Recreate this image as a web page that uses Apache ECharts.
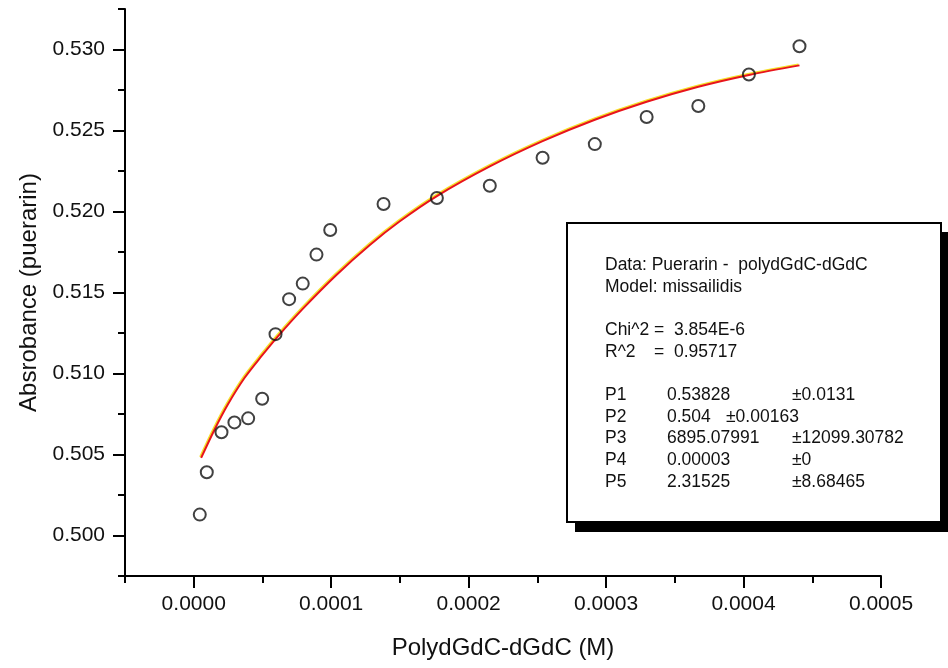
<!DOCTYPE html>
<html>
<head>
<meta charset="utf-8">
<script src="https://cdn.jsdelivr.net/npm/echarts@6/dist/echarts.min.js"></script>
<style>html,body{margin:0;padding:0;background:#fff}#c{width:948px;height:668px}</style>
</head>
<body>
<div id="c"></div>
<script>
// Measured data points (PolydGdC-dGdC concentration in M, absorbance)
const concX = [0.0000044, 0.0000095, 0.0000202, 0.0000296, 0.0000396, 0.0000498, 0.0000595, 0.0000694, 0.0000793, 0.0000893, 0.0000993,
  0.0001381, 0.0001769, 0.0002154, 0.0002538, 0.0002918, 0.0003295, 0.0003671, 0.0004039, 0.0004407];
const absorbY = [0.50129, 0.50390, 0.50637, 0.50698, 0.50723, 0.50844, 0.51243, 0.51459, 0.51555, 0.51734, 0.51886,
  0.52046, 0.52083, 0.52159, 0.52332, 0.52416, 0.52583, 0.52651, 0.52846, 0.53020];
// Fitted curve
const fitX = [0.0000054, 0.0000151, 0.0000247, 0.0000369, 0.0000491, 0.0000611, 0.0000793, 0.0001036, 0.0001279, 0.0001497,
  0.0001769, 0.0002154, 0.0002538, 0.0002918, 0.0003295, 0.0003671, 0.0004039, 0.0004407];
const fitY = [0.50479, 0.50653, 0.50807, 0.50972, 0.51105, 0.51228, 0.51399, 0.51607, 0.51792, 0.51938,
  0.52095, 0.52278, 0.52434, 0.52566, 0.52677, 0.52770, 0.52843, 0.52902];
// Axis ticks
const yMajorTicks = [0.500, 0.505, 0.510, 0.515, 0.520, 0.525, 0.530];
const yMinorTicks = [0.4975, 0.5025, 0.5075, 0.5125, 0.5175, 0.5225, 0.5275, 0.5325];
const xMajorTicks = [0.0000, 0.0001, 0.0002, 0.0003, 0.0004, 0.0005];
const xMinorTicks = [-0.00005, 0.00005, 0.00015, 0.00025, 0.00035, 0.00045];
const xTitle = 'PolydGdC-dGdC (M)';
const yTitle = 'Absrobance (puerarin)';
// Fit report box
const boxHeader = ['Data: Puerarin -  polydGdC-dGdC', 'Model: missailidis'];
const statNames = ['Chi^2', 'R^2'];
const statValues = ['=  3.854E-6', '=  0.95717'];
const paramNames = ['P1', 'P2', 'P3', 'P4', 'P5'];
const paramValues = ['0.53828', '0.504', '6895.07991', '0.00003', '2.31525'];
const paramErrors = ['\u00b10.0131', '\u00b10.00163', '\u00b112099.30782', '\u00b10', '\u00b18.68465'];

const FONT = "'Liberation Sans', Arial, sans-serif";
const chart = echarts.init(document.getElementById('c'), null, {renderer: 'canvas'});

const txt = (x, y, s) => ({type: 'text', x: x, y: y, style: {text: s, font: '17.5px ' + FONT, fill: '#111', textVerticalAlign: 'middle'}});
const graphics = [
  {type: 'rect', shape: {x: 575, y: 232, width: 380, height: 300}, style: {fill: '#000'}},
  {type: 'rect', shape: {x: 567, y: 223, width: 374, height: 299}, style: {fill: '#fff', stroke: '#000', lineWidth: 2}}
];
boxHeader.forEach((s, i) => graphics.push(txt(605, 265 + i * 21.7, s)));
statNames.forEach((s, i) => { graphics.push(txt(605, 330 + i * 21.7, s)); graphics.push(txt(654, 330 + i * 21.7, statValues[i])); });
paramNames.forEach((s, i) => {
  const y = 395 + i * 21.7;
  graphics.push(txt(605, y, s));
  graphics.push(txt(667, y, paramValues[i]));
  graphics.push(txt(i === 1 ? 726 : 792, y, paramErrors[i]));
});

chart.setOption({
  backgroundColor: '#fff',
  animation: false,
  grid: {left: 125, right: 67, top: 9, bottom: 92, containLabel: false},
  xAxis: [
    {
      type: 'value', min: -0.00005, max: 0.0005, position: 'bottom',
      axisLine: {show: true, onZero: false, lineStyle: {color: '#000', width: 2}},
      splitLine: {show: false},
      axisTick: {show: true, customValues: xMajorTicks, length: 12, lineStyle: {color: '#000', width: 2}},
      axisLabel: {show: true, customValues: xMajorTicks, margin: 18, fontSize: 21, fontFamily: FONT, color: '#111',
        formatter: v => v.toFixed(4)},
      name: xTitle, nameLocation: 'middle', nameGap: 60,
      nameTextStyle: {fontSize: 24, fontFamily: FONT, color: '#111'}
    },
    {
      type: 'value', min: -0.00005, max: 0.0005, position: 'bottom',
      axisLine: {show: false, onZero: false}, splitLine: {show: false}, axisLabel: {show: false},
      axisTick: {show: true, customValues: xMinorTicks, length: 7, lineStyle: {color: '#000', width: 2}}
    }
  ],
  yAxis: [
    {
      type: 'value', min: 0.4975, max: 0.5325, position: 'left',
      axisLine: {show: true, onZero: false, lineStyle: {color: '#000', width: 2}},
      splitLine: {show: false},
      axisTick: {show: true, customValues: yMajorTicks, length: 12, lineStyle: {color: '#000', width: 2}},
      axisLabel: {show: true, customValues: yMajorTicks, margin: 20, fontSize: 21, fontFamily: FONT, color: '#111',
        formatter: v => v.toFixed(3)},
      name: yTitle, nameLocation: 'middle', nameGap: 84, nameRotate: 90,
      nameTextStyle: {fontSize: 24, fontFamily: FONT, color: '#111'}
    },
    {
      type: 'value', min: 0.4975, max: 0.5325, position: 'left',
      axisLine: {show: false, onZero: false}, splitLine: {show: false}, axisLabel: {show: false},
      axisTick: {show: true, customValues: yMinorTicks, length: 7, lineStyle: {color: '#000', width: 2}}
    }
  ],
  series: [
    {
      type: 'line', name: 'fit', xAxisIndex: 0, yAxisIndex: 0,
      data: fitX.map((x, i) => [x, fitY[i]]),
      smooth: 0.3, showSymbol: false, symbol: 'none',
      lineStyle: {color: '#e8141c', width: 2, shadowColor: '#f5e02a', shadowBlur: 0, shadowOffsetX: -1, shadowOffsetY: -1},
      z: 2
    },
    {
      type: 'scatter', name: 'data', xAxisIndex: 0, yAxisIndex: 0,
      data: concX.map((x, i) => [x, absorbY[i]]),
      symbol: 'circle', symbolSize: 12,
      itemStyle: {color: 'rgba(0,0,0,0)', borderColor: '#111', borderWidth: 2},
      z: 3
    }
  ],
  graphic: graphics
});
</script>
</body>
</html>
